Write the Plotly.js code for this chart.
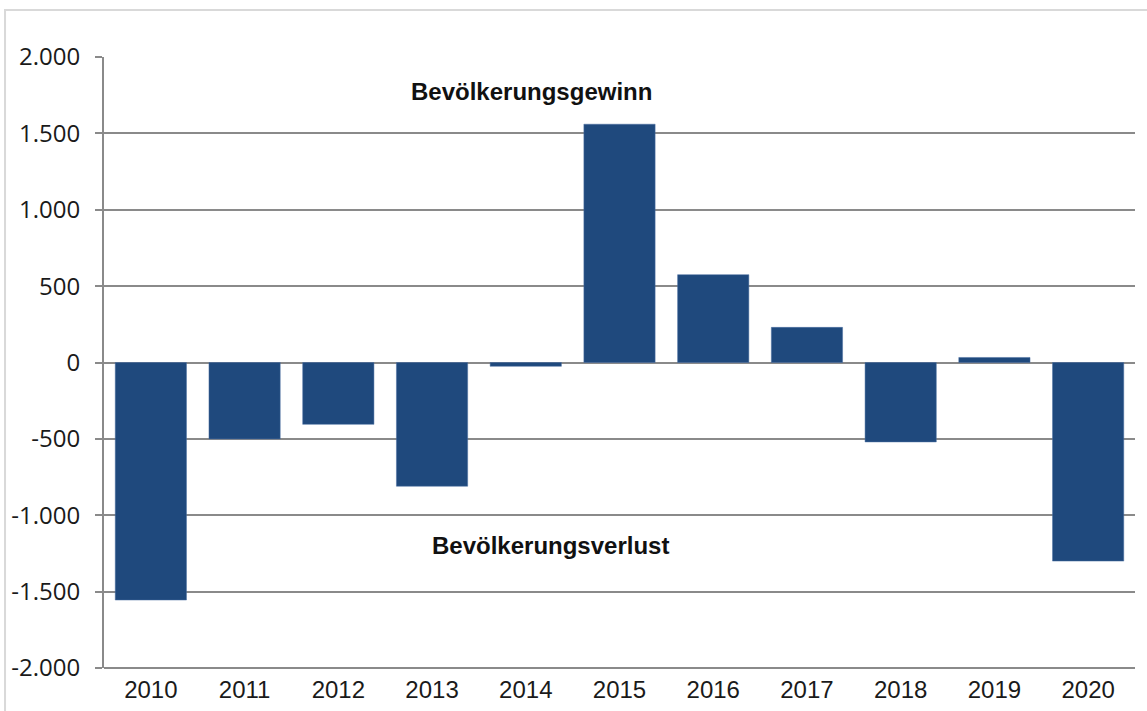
<!DOCTYPE html>
<html>
<head>
<meta charset="utf-8">
<script src="https://cdn.plot.ly/plotly-3.0.1.min.js"></script>
<style>html,body{margin:0;padding:0;background:#fff;}#chart{width:1147px;height:711px;}</style>
</head>
<body>
<div id="chart"></div>
<script>
const years = ['2010','2011','2012','2013','2014','2015','2016','2017','2018','2019','2020'];
const saldo = [-1555, -500, -405, -810, -25, 1560, 575, 230, -520, 33, -1300];
const yTickVals = [-2000, -1500, -1000, -500, 0, 500, 1000, 1500, 2000];
const yTickText = ['-2.000', '-1.500', '-1.000', '-500', '0', '500', '1.000', '1.500', '2.000'];
const labelGain = 'Bevölkerungsgewinn';
const labelLoss = 'Bevölkerungsverlust';

const trace = {
  type: 'bar',
  x: years,
  y: saldo,
  marker: {color: '#1F497D', line: {color: '#4a6fa0', width: 0.5}},
  hoverinfo: 'x+y'
};

const layout = {
  width: 1147,
  height: 711,
  margin: {l: 104, r: 12, t: 57, b: 43},
  paper_bgcolor: '#ffffff',
  plot_bgcolor: '#ffffff',
  showlegend: false,
  bargap: 0.24,
  xaxis: {
    type: 'category',
    showgrid: false,
    showline: false,
    zeroline: false,
    ticks: '',
    tickfont: {family: 'Liberation Sans, Arial, sans-serif', size: 24, color: '#1a1a1a'},
    ticklabelstandoff: 5
  },
  yaxis: {
    range: [-2000, 2000],
    tickvals: yTickVals,
    ticktext: yTickText,
    showgrid: true,
    gridcolor: '#8a8a8a',
    gridwidth: 2,
    zeroline: true,
    zerolinecolor: '#8a8a8a',
    zerolinewidth: 2,
    showline: true,
    linecolor: '#8a8a8a',
    linewidth: 2,
    ticks: 'outside',
    ticklen: 7,
    tickcolor: '#8a8a8a',
    tickwidth: 2,
    tickfont: {family: 'Open Sans, sans-serif', size: 24, color: '#1a1a1a'},
    ticklabelstandoff: 10
  },
  shapes: [
    {type: 'rect', xref: 'paper', yref: 'paper', x0: -0.096, x1: 1.05, y0: -0.12, y1: 1.077,
     line: {color: '#d9d9d9', width: 2}, fillcolor: 'rgba(0,0,0,0)', layer: 'below'},
    {type: 'line', xref: 'paper', yref: 'paper', x0: 0, x1: 1, y0: 0, y1: 0,
     line: {color: '#8a8a8a', width: 2}}
  ],
  annotations: [
    {text: '<b>' + labelGain + '</b>', xref: 'paper', yref: 'paper', x: 0.4145, y: 0.944,
     xanchor: 'center', yanchor: 'middle', showarrow: false,
     font: {family: 'Liberation Sans, Arial, sans-serif', size: 24, color: '#111'}},
    {text: '<b>' + labelLoss + '</b>', xref: 'paper', yref: 'paper', x: 0.4335, y: 0.2,
     xanchor: 'center', yanchor: 'middle', showarrow: false,
     font: {family: 'Liberation Sans, Arial, sans-serif', size: 24, color: '#111'}}
  ]
};

Plotly.newPlot('chart', [trace], layout, {displayModeBar: false, staticPlot: true});
</script>
</body>
</html>
